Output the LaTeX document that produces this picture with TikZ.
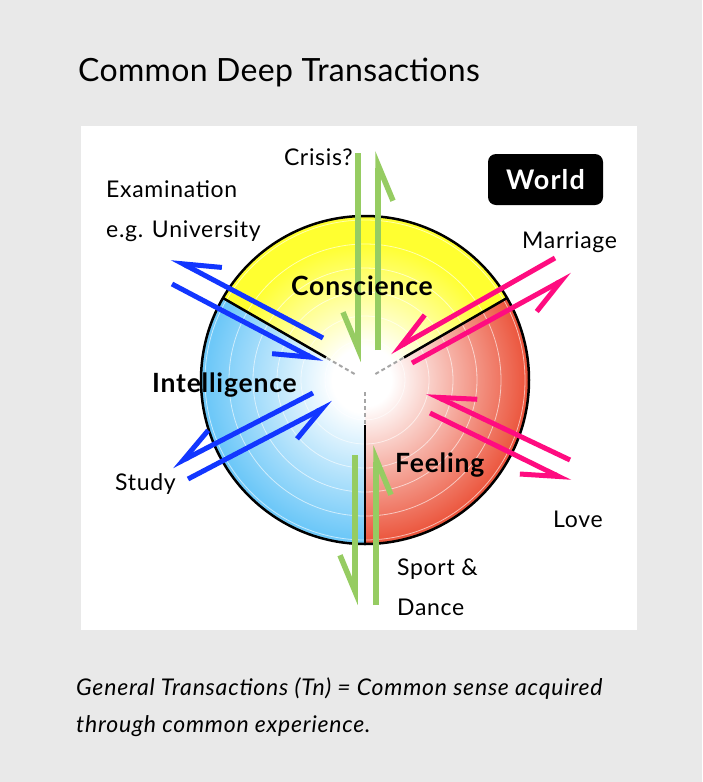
\documentclass[tikz,border=0pt]{standalone}
\usepackage{fontspec}
\setmainfont{Lato}
\usepackage{tikz}
\usetikzlibrary{arrows.meta}

\definecolor{panelgray}{HTML}{E9E9E9}
\definecolor{consyellow}{HTML}{FFFF30}
\definecolor{intblue}{HTML}{6EC8F8}
\definecolor{feelred}{HTML}{EB5239}
\definecolor{tnblue}{HTML}{1236FF}
\definecolor{tnpink}{HTML}{FF0C80}
\definecolor{tngreen}{HTML}{96CC62}

\pgfdeclareradialshading{consshade}{\pgfpoint{0bp}{0bp}}{color(0bp)=(white); color(5bp)=(white); color(21bp)=(consyellow); color(50bp)=(consyellow)}
\pgfdeclareradialshading{intshade}{\pgfpoint{0bp}{0bp}}{color(0bp)=(white); color(5bp)=(white); color(24bp)=(intblue); color(50bp)=(intblue)}
\pgfdeclareradialshading{feelshade}{\pgfpoint{0bp}{0bp}}{color(0bp)=(white); color(4bp)=(white); color(25bp)=(feelred); color(50bp)=(feelred)}

\tikzset{
  ring/.style={white, opacity=0.6, line width=0.8pt},
  divider/.style={black, line width=2.5pt},
  fadeline/.style={gray!70, line width=2pt, dash pattern=on 4pt off 3pt},
  tn/.style={line width=5pt, -{Straight Barb[harpoon,swap,length=36pt,width=30pt]}},
  tnb/.style={tn, tnblue},
  tnp/.style={tn, tnpink},
  tng/.style={tn, tngreen, line width=5.5pt},
  lbl/.style={inner sep=0pt, font=\fontsize{23}{23}\selectfont\addfontfeature{LetterSpace=3}},
  area/.style={inner sep=0pt, font=\fontsize{26.5}{26.5}\selectfont\bfseries\addfontfeature{LetterSpace=3}},
  capt/.style={inner sep=0pt, anchor=base west, font=\fontsize{23}{23}\selectfont\itshape\addfontfeature{LetterSpace=3.4}},
  worldbox/.style={fill=black, rounded corners=8pt, minimum width=115pt, minimum height=51pt,
    text=white, inner sep=0pt, font=\fontsize{27}{27}\selectfont\bfseries\addfontfeature{LetterSpace=4}}
}

\begin{document}
\begin{tikzpicture}[x=1pt, y=-1pt]
  \useasboundingbox (0,0) rectangle (702,782);
  \fill[panelgray] (0,0) rectangle (702,782);
  \fill[white] (81,126) rectangle (637,630);

  \node[inner sep=0pt, anchor=base west, font=\fontsize{32}{32}\selectfont\addfontfeature{LetterSpace=1}] (title) at (78,81) {Common Deep Transactions};

  \begin{scope}[shift={(365,380)}]
    \coordinate (O) at (0,0);
    \begin{scope}
      \clip (0,0) -- (-30:164) arc (-30:-150:164) -- cycle;
      \shade[shading=consshade] (0,0) circle (164);
    \end{scope}
    \begin{scope}
      \clip (0,0) -- (-150:164) arc (-150:-270:164) -- cycle;
      \shade[shading=intshade] (0,0) circle (164);
    \end{scope}
    \begin{scope}
      \clip (0,0) -- (90:164) arc (90:-30:164) -- cycle;
      \shade[shading=feelshade] (0,0) circle (164);
    \end{scope}
    \foreach \r in {40,64,...,160}
      \draw[ring] (0,0) circle (\r);
    \foreach \a in {-30,-150,90} {
      \draw[divider] (\a:45) -- (\a:164);
      \draw[fadeline] (\a:12) -- (\a:45);
    }
    \draw[black, line width=2.5pt] (0,0) circle (164);
  \end{scope}

  \coordinate (examout-s) at (323,338);
  \coordinate (examout-e) at (172,258);
  \coordinate (examin-s) at (172,284);
  \coordinate (examin-e) at (322,363);
  \coordinate (studyout-s) at (313,393);
  \coordinate (studyout-e) at (172,466);
  \coordinate (studyin-s) at (188,479);
  \coordinate (studyin-e) at (333,403);
  \coordinate (marrin-s) at (555,258);
  \coordinate (marrin-e) at (390,352);
  \coordinate (marrout-s) at (412,363);
  \coordinate (marrout-e) at (572,275);
  \coordinate (lovein-s) at (570,460);
  \coordinate (lovein-e) at (427,392);
  \coordinate (loveout-s) at (430,413);
  \coordinate (loveout-e) at (570,482);
  \coordinate (crisisin-s) at (358,153);
  \coordinate (crisisin-e) at (358,362);
  \coordinate (crisisout-s) at (378,350);
  \coordinate (crisisout-e) at (378,151);
  \coordinate (sportout-s) at (355,455);
  \coordinate (sportout-e) at (355,605);
  \coordinate (sportin-s) at (376,605);
  \coordinate (sportin-e) at (376,445);

  \draw[tnb] (examout-s) -- (examout-e);
  \draw[tnb] (examin-s) -- (examin-e);
  \draw[tnb] (studyout-s) -- (studyout-e);
  \draw[tnb] (studyin-s) -- (studyin-e);
  \draw[tnp] (marrin-s) -- (marrin-e);
  \draw[tnp] (marrout-s) -- (marrout-e);
  \draw[tnp] (lovein-s) -- (lovein-e);
  \draw[tnp] (loveout-s) -- (loveout-e);
  \draw[tng] (crisisin-s) -- (crisisin-e);
  \draw[tng] (crisisout-s) -- (crisisout-e);
  \draw[tng] (sportout-s) -- (sportout-e);
  \draw[tng] (sportin-s) -- (sportin-e);

  \node[area, anchor=base west] (conscience) at (291,295) {Conscience};
  \node[area, anchor=base west] (intelligence) at (152,392) {Intelligence};
  \node[area, anchor=base west] (feeling) at (395,472) {Feeling};

  \node[worldbox] (world) at (545.5,179.5) {World};

  \node[lbl, anchor=base east] (crisis) at (353,165) {Crisis?};
  \node[lbl, anchor=base west] (exam) at (106,197) {Examination};
  \node[lbl, anchor=base west] (univ) at (106,237) {e.g. University};
  \node[lbl, anchor=base west] (marriage) at (522,248) {Marriage};
  \node[lbl, anchor=base west] (study) at (115,490) {Study};
  \node[lbl, anchor=base west] (love) at (553,527) {Love};
  \node[lbl, anchor=base west] (sport) at (397,575) {Sport \&};
  \node[lbl, anchor=base west] (dance) at (397,615) {Dance};

  \node[capt] (caption1) at (76,695) {General Transactions (Tn) = Common sense acquired};
  \node[capt] (caption2) at (76,732) {through common experience.};
\end{tikzpicture}
\end{document}
